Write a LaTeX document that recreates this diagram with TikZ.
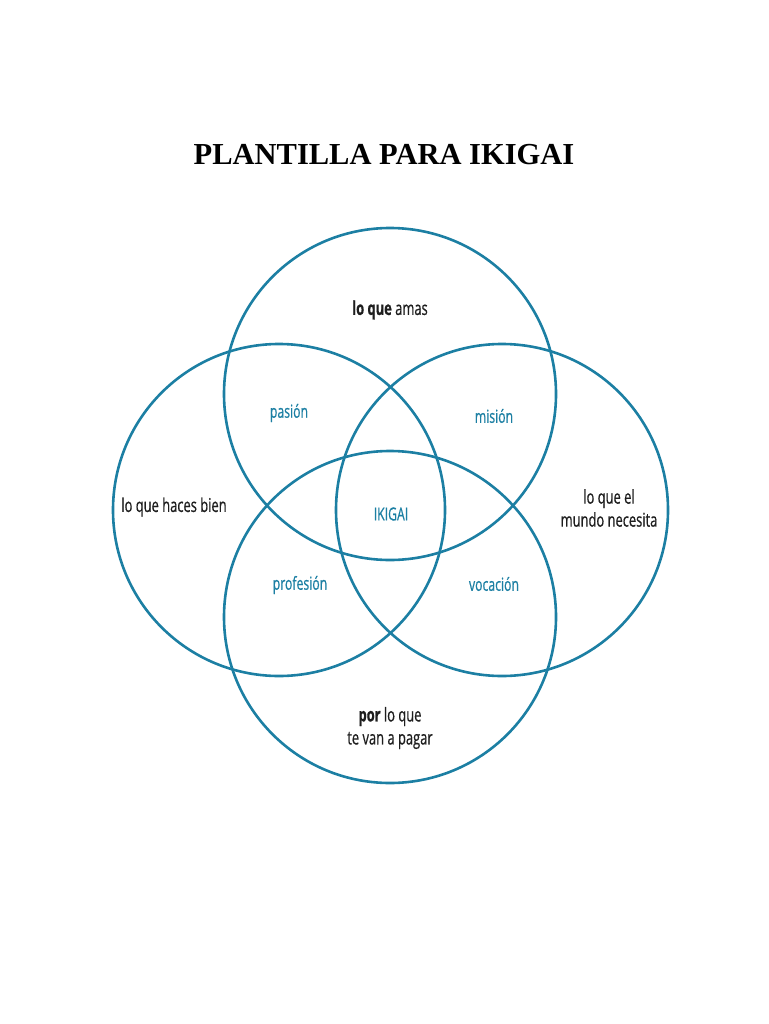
\documentclass[tikz,border=0pt]{standalone}
\usepackage{fontspec}
\setmainfont{Liberation Serif}
\newfontfamily\cond[FakeStretch=0.68,FakeBold=0.6]{Open Sans}
\definecolor{ikblue}{HTML}{1C7FA3}
\definecolor{ikgray}{HTML}{1E1E1E}
\begin{document}
\begin{tikzpicture}[x=1pt,y=-1pt,
  ring/.style={draw=ikblue,line width=2.6pt},
  outer/.style={font=\cond\fontsize{19}{23}\selectfont,text=ikgray,align=center,inner sep=0pt},
  inner/.style={font=\cond\fontsize{18}{22}\selectfont,text=ikblue,align=center,inner sep=0pt}]
\useasboundingbox (0,0) rectangle (768,1024);
\node (title) at (384,155) {\fontsize{30.5}{36}\selectfont\bfseries PLANTILLA PARA IKIGAI};
\node[ring,circle,minimum size=332pt,inner sep=0pt] (top) at (390,394) {};
\node[ring,circle,minimum size=332pt,inner sep=0pt] (left) at (279,510) {};
\node[ring,circle,minimum size=332pt,inner sep=0pt] (right) at (502,510) {};
\node[ring,circle,minimum size=332pt,inner sep=0pt] (bottom) at (390,617) {};
\node[outer] (amas) at (390,310) {\bfseries lo que\mdseries{} amas};
\node[outer] (bien) at (174,507) {lo que haces bien};
\node[outer] (mundo) at (609,508) {lo que el\\mundo necesita};
\node[outer] (pagar) at (390,728) {\bfseries por\mdseries{} lo que\\te van a pagar};
\node[inner] (pasion) at (289,413) {pasión};
\node[inner] (mision) at (494,416) {misión};
\node[inner] (ikigai) at (391,514) {IKIGAI};
\node[inner] (profesion) at (300,585) {profesión};
\node[inner] (vocacion) at (494,584) {vocación};
\end{tikzpicture}
\end{document}
